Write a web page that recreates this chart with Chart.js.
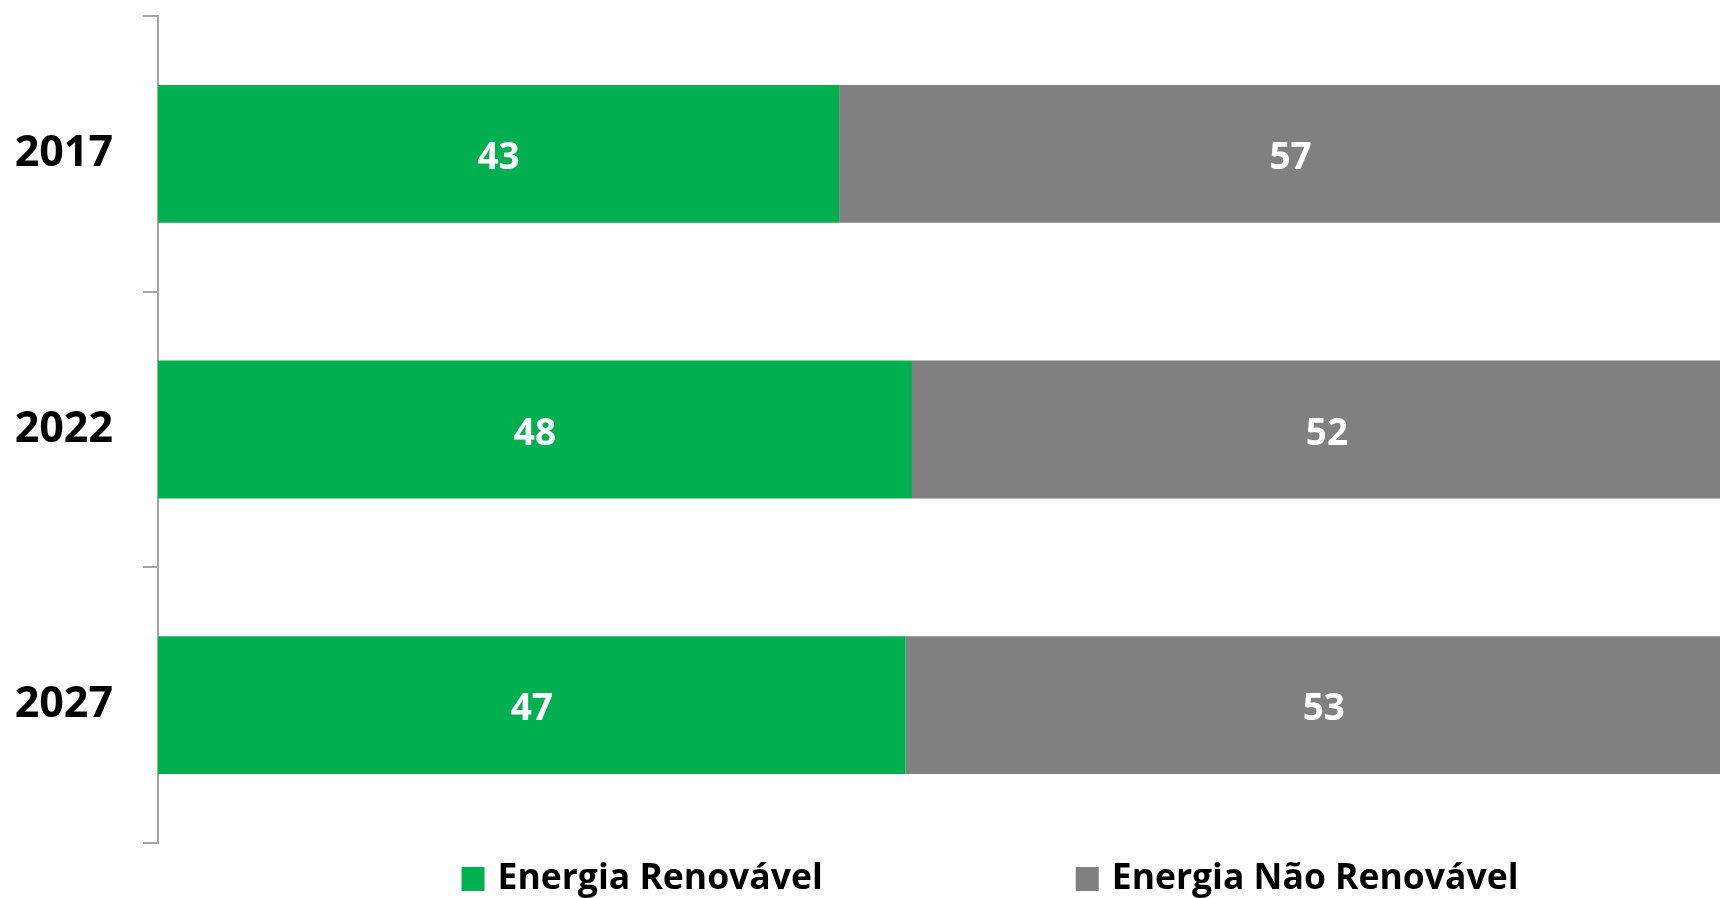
<!DOCTYPE html>
<html>
<head>
<meta charset="utf-8">
<script src="https://cdn.jsdelivr.net/npm/chart.js@4"></script>
<style>
  html, body { margin: 0; padding: 0; background: #fff; overflow: hidden; }
  /* o gráfico original corta a barra cinza na borda direita */
  #wrap { width: 1720px; height: 898px; overflow: hidden; }
</style>
</head>
<body>
<div id="wrap"><canvas id="grafico" width="1742" height="898"></canvas></div>
<script>
// dados (%)
const anos = ['2017', '2022', '2027'];
const renovavel = [43, 47.6, 47.2];
const naoRenovavel = [57, 52.4, 52.8];
const nomesSeries = ['Energia Renovável', 'Energia Não Renovável'];
const cores = ['#00B050', '#808080'];

const FONTE = '"Open Sans", "DejaVu Sans", sans-serif';

// rótulos de valor dentro das barras
const rotulosPlugin = {
    id: 'rotulos',
    afterDatasetsDraw(chart) {
        const ctx = chart.ctx;
        ctx.save();
        ctx.fillStyle = '#ffffff';
        ctx.font = 'bold 37px ' + FONTE;
        ctx.textAlign = 'center';
        ctx.textBaseline = 'alphabetic';
        chart.data.datasets.forEach((ds, i) => {
            chart.getDatasetMeta(i).data.forEach((bar, j) => {
                const x = (bar.x + bar.base) / 2;
                ctx.fillText(Math.round(ds.data[j]), x, bar.y + 15);
            });
        });
        ctx.restore();
    }
};

// legenda desenhada à mão (espaçamento largo entre itens)
const legendaPlugin = {
    id: 'legendaBaixo',
    afterDraw(chart) {
        const ctx = chart.ctx;
        const caixa = 23, gapTexto = 13, gapItens = 253;
        const base = chart.height - 9;
        ctx.save();
        ctx.font = 'bold 35.5px ' + FONTE;
        ctx.textBaseline = 'alphabetic';
        const larguras = chart.data.datasets.map(ds => caixa + gapTexto + ctx.measureText(ds.label).width);
        const total = larguras.reduce((a, b) => a + b, 0) + gapItens * (larguras.length - 1);
        let x = (chart.chartArea.left + chart.chartArea.right) / 2 + 40 - total / 2;
        chart.data.datasets.forEach((ds, i) => {
            ctx.fillStyle = ds.backgroundColor;
            ctx.fillRect(x, base - 22, caixa, 24);
            ctx.fillStyle = '#000000';
            ctx.fillText(ds.label, x + caixa + gapTexto, base);
            x += larguras[i] + gapItens;
        });
        ctx.restore();
    }
};

function desenhar() {
    const ctx = document.getElementById('grafico').getContext('2d');
    new Chart(ctx, {
        type: 'bar',
        data: {
            labels: anos,
            datasets: [
                { label: nomesSeries[0], data: renovavel, backgroundColor: cores[0] },
                { label: nomesSeries[1], data: naoRenovavel, backgroundColor: cores[1] }
            ]
        },
        options: {
            indexAxis: 'y',
            responsive: false,
            animation: false,
            devicePixelRatio: 1,
            layout: { padding: { top: 16, bottom: 55, left: 0, right: 0 } },
            datasets: { bar: { barPercentage: 0.5, categoryPercentage: 1 } },
            plugins: { legend: { display: false }, tooltip: { enabled: false } },
            scales: {
                x: { stacked: true, display: false, min: 0, max: 100 },
                y: {
                    stacked: true,
                    grid: { offset: true, drawOnChartArea: false, tickLength: 15, color: '#a6a6a6', lineWidth: 2 },
                    border: { color: '#a6a6a6', width: 2 },
                    ticks: { padding: 30, color: '#000000', font: { family: FONTE, size: 43, weight: 'bold' } },
                    afterFit(scale) {
                        scale.width = 158;
                        scale.paddingTop = 0;
                        scale.paddingBottom = 0;
                    }
                }
            }
        },
        plugins: [rotulosPlugin, legendaPlugin]
    });
}

document.fonts.load('bold 37px "Open Sans"').then(desenhar, desenhar);
</script>
</body>
</html>
